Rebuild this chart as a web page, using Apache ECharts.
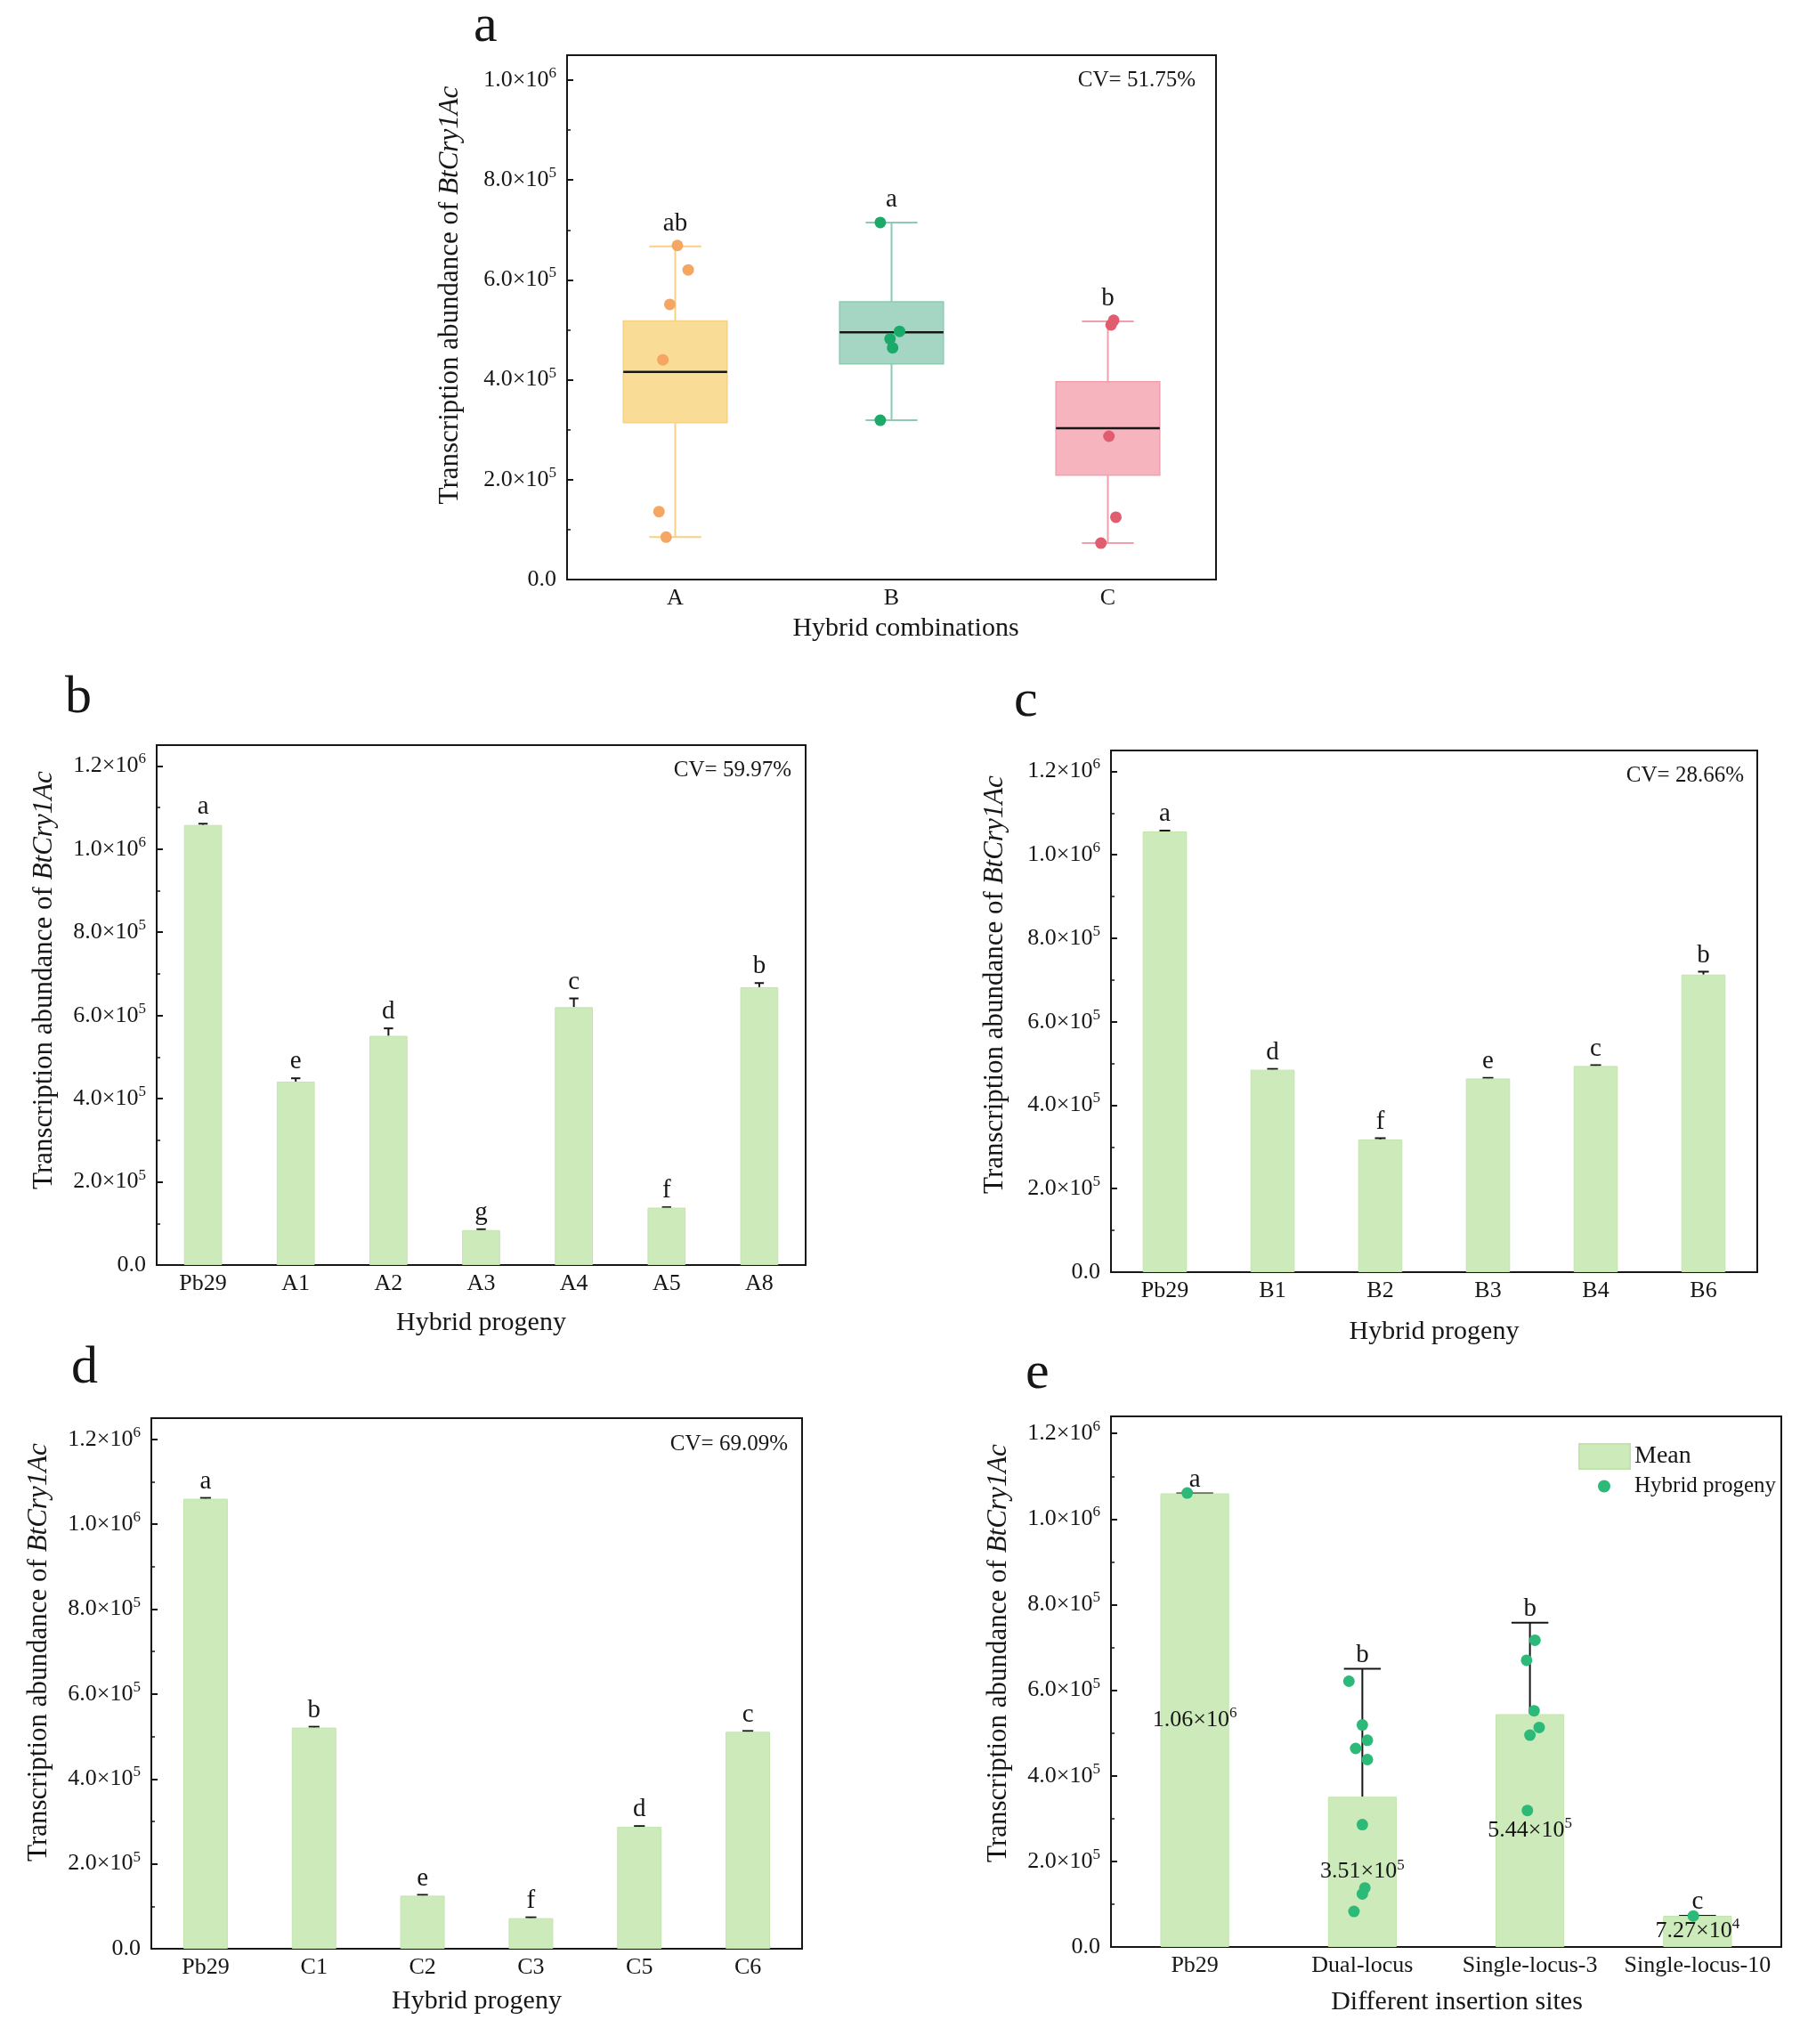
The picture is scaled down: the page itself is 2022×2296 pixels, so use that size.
<!DOCTYPE html>
<html>
<head>
<meta charset="utf-8">
<title>BtCry1Ac transcription abundance</title>
<script src="https://cdn.jsdelivr.net/npm/echarts@6/dist/echarts.min.js"></script>
<style>
  html, body { margin: 0; padding: 0; background: #fff; }
  #chart { width: 2022px; height: 2296px; }
</style>
</head>
<body>
<div id="chart"></div>
<script>
// ---- data ----
// a: hybrid combinations, box stats [min, Q1, median, Q3, max]
const comboCats = ['A', 'B', 'C'];
const comboStats = [
  [85000, 314000, 416000, 518000, 667000],
  [319000, 432000, 495000, 556000, 715000],
  [73000, 209000, 303000, 396000, 517000]
];
const comboLetters = ['ab', 'a', 'b'];
const comboPtsA = [669000, 620000, 551000, 440000, 136000, 85000];
const comboJitA = [0.01, 0.06, -0.025, -0.057, -0.075, -0.042];
const comboPtsB = [715000, 497000, 482000, 464000, 319000];
const comboJitB = [-0.052, 0.037, -0.007, 0.005, -0.052];
const comboPtsC = [519000, 510000, 287000, 125000, 73000];
const comboJitC = [0.027, 0.015, 0.005, 0.037, -0.032];

// b: progeny of A
const progA = ['Pb29', 'A1', 'A2', 'A3', 'A4', 'A5', 'A8'];
const progAMean = [1058000, 441000, 551000, 84000, 620000, 138000, 668000];
const progASd = [3000, 8000, 18000, 2000, 21000, 1000, 10000];
const progALetters = ['a', 'e', 'd', 'g', 'c', 'f', 'b'];

// c: progeny of B
const progB = ['Pb29', 'B1', 'B2', 'B3', 'B4', 'B6'];
const progBMean = [1056000, 485000, 318000, 464000, 494000, 713000];
const progBSd = [2000, 2000, 3000, 1500, 2000, 7000];
const progBLetters = ['a', 'd', 'f', 'e', 'c', 'b'];

// d: progeny of C
const progC = ['Pb29', 'C1', 'C2', 'C3', 'C5', 'C6'];
const progCMean = [1060000, 521000, 125000, 72000, 287000, 511000];
const progCSd = [2000, 2000, 2000, 2000, 2000, 2000];
const progCLetters = ['a', 'b', 'e', 'f', 'd', 'c'];

// e: insertion sites
const sites = ['Pb29', 'Dual-locus', 'Single-locus-3', 'Single-locus-10'];
const siteMean = [1060000, 351000, 544000, 72700];
const siteSd = [0, 299000, 214000, 0];
const siteLetters = ['a', 'b', 'b', 'c'];
const sitePtsPb = [1061000];
const siteJitPb = [-0.045];
const sitePtsDual = [621000, 519000, 483000, 464000, 438000, 286000, 138000, 124000, 83000];
const siteJitDual = [-0.08, 0.0, 0.03, -0.04, 0.03, 0.0, 0.015, 0.0, -0.05];
const sitePtsS3 = [717000, 670000, 552000, 513000, 495000, 319000];
const siteJitS3 = [0.03, -0.02, 0.025, 0.055, 0.0, -0.015];
const sitePtsS10 = [72500];
const siteJitS10 = [-0.025];

const cvTexts = ['CV= 51.75%', 'CV= 59.97%', 'CV= 28.66%', 'CV= 69.09%'];

// ---- styles ----
const FONT = "'Liberation Serif', 'Times New Roman', serif";
const INK = '#161616';
const BAR = '#CDEBBA';
const DOT = '#2DBA78';
const comboFill = ['#F9DC96', '#A5D6C3', '#F5B4BE'];
const comboLine = ['#F6D183', '#8DCAB2', '#EF9FAD'];
const comboDot = ['#F5A663', '#1BAA6A', '#E05C6E'];

const supRich = {
  b: { fontFamily: FONT, fontSize: 26, color: INK, lineHeight: 32 },
  s: { fontFamily: FONT, fontSize: 17, color: INK, lineHeight: 18, verticalAlign: 'top' }
};

function sci(v, digits) {
  const e = Math.floor(Math.log10(v) + 1e-9);
  const m = (v / Math.pow(10, e)).toFixed(digits);
  return '{b|' + m + '×10}{s|' + e + '}';
}

function tickLabel(v) {
  if (v % 200000 !== 0) return '';
  if (v === 0) return '{b|0.0}';
  return sci(v, 1);
}

// shift: padding on the start side, nudges the centred name along the axis
function catAxis(gi, data, name, nameGap, shift) {
  return {
    type: 'category', gridIndex: gi, data: data,
    axisLine: { onZero: false, lineStyle: { color: INK, width: 2 } },
    axisTick: { inside: true, alignWithLabel: true, length: 7, lineStyle: { color: INK, width: 2 } },
    axisLabel: { fontFamily: FONT, fontSize: 26, color: INK, margin: 8, interval: 0 },
    name: name, nameLocation: 'middle', nameGap: nameGap,
    nameTextStyle: { fontFamily: FONT, fontSize: 30, color: INK, padding: [0, 0, 0, shift] }
  };
}

function valAxis(gi, max, nameGap, shift) {
  return {
    type: 'value', gridIndex: gi, min: 0, max: max, interval: 200000,
    axisLine: { show: true, onZero: false, lineStyle: { color: INK, width: 2 } },
    axisTick: { show: true, inside: true, length: 7, lineStyle: { color: INK, width: 2 } },
    minorTick: { show: true, splitNumber: 2, length: 4, lineStyle: { color: INK, width: 1.5 } },
    splitLine: { show: false },
    axisLabel: { formatter: tickLabel, margin: 12, rich: supRich, showMaxLabel: false },
    name: '{n|Transcription abundance of }{i|BtCry1Ac}',
    nameLocation: 'middle', nameGap: nameGap, nameRotate: 90,
    nameTextStyle: {
      padding: [0, 0, 0, shift],
      rich: {
        n: { fontFamily: FONT, fontSize: 31, color: INK },
        i: { fontFamily: FONT, fontSize: 31, color: INK, fontStyle: 'italic' }
      }
    }
  };
}

function hiddenX(gi, n) {
  return { type: 'value', gridIndex: gi, min: -0.5, max: n - 0.5, show: false, position: 'top',
    axisLine: { onZero: false } };
}

function letterText(x, y, txt) {
  return {
    type: 'text', x: x, y: y,
    style: { text: txt, fontFamily: FONT, fontSize: 29, fill: INK, align: 'center', verticalAlign: 'bottom' }
  };
}

// box + whiskers for panel a
function boxRender(params, api) {
  const i = params.dataIndex;
  const x = api.value(0);
  const lo = api.coord([x, api.value(1)]);
  const q1 = api.coord([x, api.value(2)]);
  const md = api.coord([x, api.value(3)]);
  const q3 = api.coord([x, api.value(4)]);
  const hi = api.coord([x, api.value(5)]);
  const band = api.size([1, 0])[0];
  const bw = band * 0.48, cw = band * 0.24;
  const cx = lo[0];
  const ls = { stroke: comboLine[i], lineWidth: 2 };
  return {
    type: 'group',
    children: [
      { type: 'line', shape: { x1: cx, y1: lo[1], x2: cx, y2: hi[1] }, style: ls },
      { type: 'line', shape: { x1: cx - cw / 2, y1: lo[1], x2: cx + cw / 2, y2: lo[1] }, style: ls },
      { type: 'line', shape: { x1: cx - cw / 2, y1: hi[1], x2: cx + cw / 2, y2: hi[1] }, style: ls },
      { type: 'rect', shape: { x: cx - bw / 2, y: q3[1], width: bw, height: q1[1] - q3[1] },
        style: { fill: comboFill[i], stroke: comboLine[i], lineWidth: 1.5 } },
      { type: 'line', shape: { x1: cx - bw / 2, y1: md[1], x2: cx + bw / 2, y2: md[1] },
        style: { stroke: INK, lineWidth: 2.5 } },
      letterText(cx, hi[1] - 11, comboLetters[i])
    ]
  };
}

// upward error bar with significance letter
function errRender(letters, capFrac, gap) {
  return function (params, api) {
    const i = params.dataIndex;
    const base = api.coord([api.value(0), api.value(1)]);
    const top = api.coord([api.value(0), api.value(2)]);
    const cw = api.size([1, 0])[0] * capFrac;
    const ls = { stroke: INK, lineWidth: 2 };
    return {
      type: 'group',
      children: [
        { type: 'line', shape: { x1: base[0], y1: base[1], x2: top[0], y2: top[1] }, style: ls },
        { type: 'line', shape: { x1: top[0] - cw / 2, y1: top[1], x2: top[0] + cw / 2, y2: top[1] }, style: ls },
        letterText(top[0], top[1] - gap, letters[i])
      ]
    };
  };
}

function errSeries(gi, means, sds, letters, capFrac, gap) {
  return {
    type: 'custom', xAxisIndex: gi, yAxisIndex: gi, z: 2,
    data: means.map(function (m, i) { return [i, m, m + sds[i]]; }),
    encode: { x: 0, y: [1, 2] },
    renderItem: errRender(letters, capFrac, gap),
    silent: true
  };
}

function barSeries(gi, means, name) {
  return {
    type: 'bar', name: name, xAxisIndex: gi, yAxisIndex: gi, barWidth: '41%',
    data: means,
    itemStyle: { color: BAR, borderColor: '#C2E4AC', borderWidth: 1 }
  };
}

function jitter(idx, vals, jit) {
  return vals.map(function (v, k) { return [idx + jit[k], v]; });
}

function scatterA(i, vals, jit) {
  return {
    type: 'scatter', xAxisIndex: 5, yAxisIndex: 0, z: 3, symbolSize: 13,
    data: jitter(i, vals, jit),
    itemStyle: { color: comboDot[i], opacity: 1 }
  };
}

function panelTitle(txt, left, top) {
  return { text: txt, left: left, top: top, padding: 0,
    textStyle: { fontFamily: FONT, fontSize: 60, fontWeight: 'normal', color: INK } };
}
function cvTitle(txt, right, top) {
  return { text: txt, right: right, top: top, padding: 0,
    textStyle: { fontFamily: FONT, fontSize: 25, fontWeight: 'normal', color: INK } };
}

const gridStyle = { show: true, borderColor: INK, borderWidth: 2, containLabel: false };

const chart = echarts.init(document.getElementById('chart'), null, { renderer: 'canvas' });

const option = {
  backgroundColor: '#fff',
  animation: false,
  title: [
    panelTitle('a', 532, 0),
    panelTitle('b', 73, 754),
    panelTitle('c', 1139, 758),
    panelTitle('d', 80, 1507),
    panelTitle('e', 1152, 1513),
    cvTitle(cvTexts[0], 679, 78),
    cvTitle(cvTexts[1], 1133, 853),
    cvTitle(cvTexts[2], 63, 859),
    cvTitle(cvTexts[3], 1137, 1610)
  ],
  legend: [
    {
      data: ['Mean'], left: 1768, top: 1616, icon: 'rect', itemWidth: 57, itemHeight: 28,
      selectedMode: false,
      textStyle: { fontFamily: FONT, fontSize: 28, color: INK }
    },
    {
      data: ['Hybrid progeny'], left: 1790, top: 1652, icon: 'circle', itemWidth: 14, itemHeight: 14,
      selectedMode: false,
      textStyle: { fontFamily: FONT, fontSize: 25, color: INK, padding: [0, 0, 0, 22] }
    }
  ],
  grid: [
    Object.assign({ left: 637, top: 62, width: 729, height: 589 }, gridStyle),
    Object.assign({ left: 176, top: 837, width: 729, height: 584 }, gridStyle),
    Object.assign({ left: 1248, top: 843, width: 726, height: 586 }, gridStyle),
    Object.assign({ left: 170, top: 1593, width: 731, height: 596 }, gridStyle),
    Object.assign({ left: 1248, top: 1591, width: 753, height: 596 }, gridStyle)
  ],
  xAxis: [
    catAxis(0, comboCats, 'Hybrid combinations', 40, 32),
    catAxis(1, progA, 'Hybrid progeny', 50, 0),
    catAxis(2, progB, 'Hybrid progeny', 52, 0),
    catAxis(3, progC, 'Hybrid progeny', 44, 0),
    catAxis(4, sites, 'Different insertion sites', 47, 24),
    hiddenX(0, comboCats.length),
    hiddenX(4, sites.length)
  ],
  yAxis: [
    valAxis(0, 1050000, 116, 50),
    valAxis(1, 1250000, 111, 56),
    valAxis(2, 1250000, 115, 60),
    valAxis(3, 1250000, 111, 70),
    valAxis(4, 1240000, 111, 64)
  ],
  series: [
    {
      type: 'custom', xAxisIndex: 0, yAxisIndex: 0, z: 2,
      data: comboStats.map(function (s, i) { return [i].concat(s); }),
      encode: { x: 0, y: [1, 2, 3, 4, 5] },
      renderItem: boxRender,
      silent: true
    },
    scatterA(0, comboPtsA, comboJitA),
    scatterA(1, comboPtsB, comboJitB),
    scatterA(2, comboPtsC, comboJitC),

    barSeries(1, progAMean, 'A progeny'),
    errSeries(1, progAMean, progASd, progALetters, 0.1, 4),
    barSeries(2, progBMean, 'B progeny'),
    errSeries(2, progBMean, progBSd, progBLetters, 0.1, 4),
    barSeries(3, progCMean, 'C progeny'),
    errSeries(3, progCMean, progCSd, progCLetters, 0.1, 4),

    Object.assign(barSeries(4, siteMean, 'Mean'), {
      label: {
        show: true, position: 'inside',
        formatter: function (p) { return sci(p.value, 2); },
        rich: supRich
      }
    }),
    errSeries(4, siteMean, siteSd, siteLetters, 0.22, 1),
    {
      type: 'scatter', name: 'Hybrid progeny', xAxisIndex: 6, yAxisIndex: 4, z: 3, symbolSize: 13,
      data: jitter(0, sitePtsPb, siteJitPb)
        .concat(jitter(1, sitePtsDual, siteJitDual))
        .concat(jitter(2, sitePtsS3, siteJitS3))
        .concat(jitter(3, sitePtsS10, siteJitS10)),
      itemStyle: { color: DOT, opacity: 1 }
    }
  ]
};

chart.setOption(option, true);
window.onresize = chart.resize;
</script>
</body>
</html>
